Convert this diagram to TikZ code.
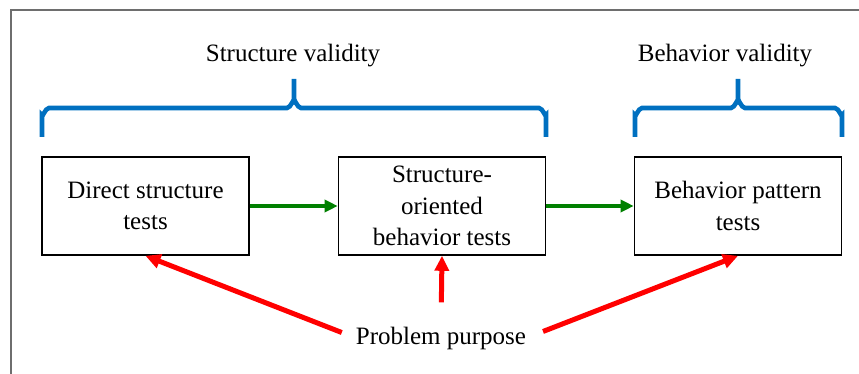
\documentclass[tikz,border=0pt]{standalone}
\usepackage{fontspec}
\setmainfont{Liberation Serif}
\usetikzlibrary{arrows.meta}
\definecolor{braceblue}{RGB}{0,112,192}
\definecolor{flowgreen}{RGB}{0,128,0}
\definecolor{framegray}{RGB}{110,110,110}
\tikzset{
  testbox/.style={draw=black, line width=1.6pt, fill=white, minimum width=207pt,
    minimum height=98pt, align=center, inner sep=2pt,
    font=\fontsize{25}{31.5}\selectfont},
  caption/.style={inner sep=0pt, anchor=base, font=\fontsize{25}{30}\selectfont},
  bracepath/.style={draw=braceblue, line width=4.6pt},
  flowarrow/.style={draw=flowgreen, line width=4pt,
    -{Triangle[length=13pt,width=12pt]}},
  purposearrow/.style={draw=red, line width=5pt,
    -{Triangle[length=15pt,width=14pt]}},
}
\begin{document}
\begin{tikzpicture}[x=1pt,y=-1pt]
  \useasboundingbox (0,0) rectangle (859,374);
  % outer frame (left and top edges only)
  \draw[framegray, line width=1.3pt] (11,374) -- (11,10) -- (859,10);

  % headings
  \node[caption] (sv) at (293,62) {Structure validity};
  \node[caption] (bv) at (725,62) {Behavior validity};

  % braces
  \draw[bracepath] (42,137) -- (42,115) to[out=-90,in=180] (49,108) -- (287,108)
    to[out=0,in=90] (294,101) -- (294,79);
  \draw[bracepath] (294,101) to[out=90,in=180] (301,108) -- (539,108)
    to[out=0,in=-90] (546,115) -- (546,137);
  \draw[bracepath] (635,137) -- (635,115) to[out=-90,in=180] (642,108) -- (731,108)
    to[out=0,in=90] (738,101) -- (738,79);
  \draw[bracepath] (738,101) to[out=90,in=180] (745,108) -- (835,108)
    to[out=0,in=-90] (842,115) -- (842,137);

  % test boxes
  \node[testbox] (b1) at (145.5,206) {Direct structure\\tests};
  \node[testbox] (b2) at (442,206) {Structure-\\oriented\\behavior tests};
  \node[testbox] (b3) at (738,206) {Behavior pattern\\tests};

  % flow between the boxes
  \draw[flowarrow] (b1.east) -- (b2.west);
  \draw[flowarrow] (b2.east) -- (b3.west);

  % problem purpose and its influence
  \node[caption] (pp) at (441,344) {Problem purpose};
  \draw[purposearrow, shorten <=15pt] (pp.west) -- (b1.south);
  \draw[purposearrow, shorten <=24pt] (pp.north) -- (b2.south);
  \draw[purposearrow, shorten <=18pt] (pp.east) -- (b3.south);
\end{tikzpicture}
\end{document}
